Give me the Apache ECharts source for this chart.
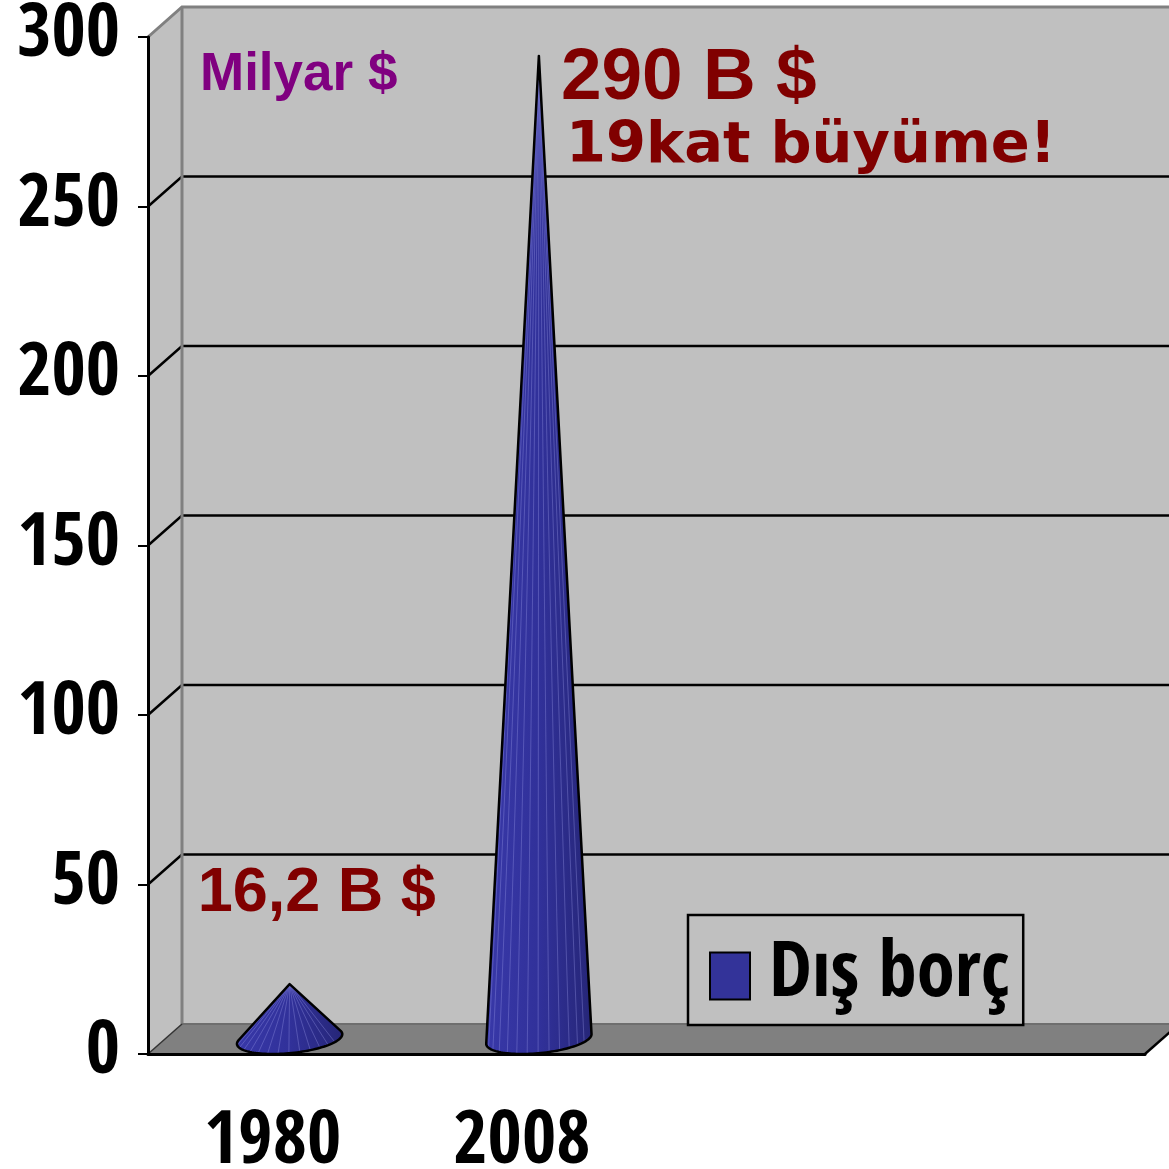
<!DOCTYPE html>
<html>
<head>
<meta charset="utf-8">
<script src="https://cdn.jsdelivr.net/npm/echarts@6/dist/echarts.min.js"></script>
<style>
  html, body { margin: 0; padding: 0; background: #fff; }
  #chart { width: 1169px; height: 1169px; }
</style>
</head>
<body>
<div id="chart"></div>
<script>
// data
var years = ['1980', '2008', '', ''];
var debt = [16.2, 290];
var debtLabels = ['16,2 B $', '290 B $'];
var notes = ['', '19kat büyüme!'];
var yTicks = [0, 50, 100, 150, 200, 250, 300];
var unitText = 'Milyar $';
var seriesName = 'Dış borç';

// layout of the fake 3d box and the text boxes
var DX = 34, DY = -30;
var labelOffset = [[-92, -90], [22, 23]];
var noteOffset = [[0, 0], [27, 91]];

var narrow = '"Open Sans Condensed", "Roboto Condensed", "DejaVu Sans Condensed", sans-serif';
var arial = '"Liberation Sans", Arial, sans-serif';

function hull(pts) {
  pts = pts.slice().sort(function (a, b) { return a[0] - b[0] || a[1] - b[1]; });
  function cross(o, a, b) { return (a[0] - o[0]) * (b[1] - o[1]) - (a[1] - o[1]) * (b[0] - o[0]); }
  var lower = [], upper = [];
  for (var i = 0; i < pts.length; i++) {
    while (lower.length >= 2 && cross(lower[lower.length - 2], lower[lower.length - 1], pts[i]) <= 0) lower.pop();
    lower.push(pts[i]);
  }
  for (var j = pts.length - 1; j >= 0; j--) {
    while (upper.length >= 2 && cross(upper[upper.length - 2], upper[upper.length - 1], pts[j]) <= 0) upper.pop();
    upper.push(pts[j]);
  }
  lower.pop(); upper.pop();
  return lower.concat(upper);
}

// walls, floor and grid lines of the box
function renderBox(params, api) {
  var cs = params.coordSys;
  var x0 = cs.x, x1 = cs.x + cs.width;
  var yb = api.coord([0, yTicks[0]])[1];
  var yt = api.coord([0, yTicks[yTicks.length - 1]])[1];
  var kids = [];
  kids.push({ type: 'polygon', shape: { points: [[x0, yt], [x0 + DX, yt + DY], [x0 + DX, yb + DY], [x0, yb]] }, style: { fill: '#c0c0c0' } });
  kids.push({ type: 'rect', shape: { x: x0 + DX, y: yt + DY, width: x1 - x0 + 10, height: yb - yt }, style: { fill: '#c0c0c0' } });
  kids.push({ type: 'polygon', shape: { points: [[x0, yb], [x1, yb], [x1 + DX, yb + DY], [x0 + DX, yb + DY]] }, style: { fill: '#808080' } });
  yTicks.forEach(function (v, k) {
    if (k === 0 || k === yTicks.length - 1) return;
    var y = api.coord([0, v])[1];
    kids.push({ type: 'polyline', shape: { points: [[x0, y], [x0 + DX, y + DY], [x1 + DX + 10, y + DY]] }, style: { stroke: '#000', lineWidth: 2.5, fill: null } });
  });
  kids.push({ type: 'polyline', shape: { points: [[x0, yt], [x0 + DX, yt + DY], [x1 + DX + 10, yt + DY]] }, style: { stroke: '#808080', lineWidth: 3, fill: null } });
  kids.push({ type: 'line', shape: { x1: x0 + DX, y1: yt + DY, x2: x0 + DX, y2: yb + DY }, style: { stroke: '#808080', lineWidth: 3 } });
  kids.push({ type: 'line', shape: { x1: x0 + DX, y1: yb + DY, x2: x1 + DX + 10, y2: yb + DY }, style: { stroke: '#6e6e6e', lineWidth: 2 } });
  kids.push({ type: 'line', shape: { x1: x0, y1: yb, x2: x0 + DX, y2: yb + DY }, style: { stroke: '#333', lineWidth: 1.5 } });
  kids.push({ type: 'line', shape: { x1: x1, y1: yb, x2: x1 + DX, y2: yb + DY }, style: { stroke: '#000', lineWidth: 2.5 } });
  return { type: 'group', children: kids };
}

// one cone per year, standing in the middle of the box depth
function renderCone(params, api) {
  var i = params.dataIndex;
  var cat = api.value(0), v = api.value(1);
  var band = api.size([1, 0])[0];
  var base = api.coord([cat, 0]);
  var top = api.coord([cat, v]);
  var cx = base[0] + DX / 2, cy = base[1] + DY / 2;
  var apex = [top[0] + DX / 2, top[1] + DY / 2];
  var r = band * 0.2;
  var ring = [];
  var n = 120;
  for (var k = 0; k < n; k++) {
    var t = k / n * Math.PI * 2;
    ring.push([cx + r * Math.cos(t) + DX * 0.5 * Math.sin(t), cy + DY * 0.5 * Math.sin(t)]);
  }
  var outline = hull(ring.concat([apex]));
  var kids = [];
  kids.push({
    type: 'polygon', shape: { points: outline },
    style: {
      fill: { type: 'linear', x: 0, y: 0, x2: 1, y2: 0, colorStops: [
        { offset: 0, color: '#3838a8' }, { offset: 0.5, color: '#31319a' }, { offset: 1, color: '#262678' }] }
    }
  });
  // faint facet lines
  for (var m = 0; m < n; m += 4) {
    var tt = m / n * Math.PI * 2;
    if (Math.sin(tt) >= -0.05) continue;
    kids.push({ type: 'line', shape: { x1: apex[0], y1: apex[1], x2: ring[m][0], y2: ring[m][1] },
      style: { stroke: 'rgba(150,150,230,0.45)', lineWidth: 0.8 } });
  }
  kids.push({ type: 'polygon', shape: { points: outline }, style: { fill: null, stroke: '#000', lineWidth: 2.5, lineJoin: 'round' } });
  kids.push({
    type: 'text', x: apex[0] + labelOffset[i][0], y: apex[1] + labelOffset[i][1],
    style: { text: debtLabels[i], fill: '#800000', font: 'bold ' + (i === 0 ? 63 : 73) + 'px ' + arial, align: 'left', verticalAlign: 'middle' }
  });
  if (notes[i]) {
    kids.push({
      type: 'text', x: apex[0] + noteOffset[i][0], y: apex[1] + noteOffset[i][1],
      style: { text: notes[i], fill: '#800000', font: 'bold 57.5px "DejaVu Sans", Verdana, sans-serif', align: 'left', verticalAlign: 'middle' }
    });
  }
  return { type: 'group', children: kids };
}

var chart = echarts.init(document.getElementById('chart'));
chart.setOption({
  animation: false,
  backgroundColor: '#fff',
  grid: { left: 148, right: 24, top: 37, bottom: 115, containLabel: false, outerBoundsMode: 'none' },
  legend: {
    data: [seriesName], left: 688, top: 915, z: 10,
    backgroundColor: '#c0c0c0', borderColor: '#000', borderWidth: 2.5, borderRadius: 0,
    padding: [15, 14, 3, 21],
    itemWidth: 40, itemHeight: 47, icon: 'rect',
    itemStyle: { borderColor: '#000', borderWidth: 2 },
    textStyle: { fontFamily: narrow, fontWeight: 'bold', fontSize: 77, color: '#000', lineHeight: 80, padding: [12, 0, 0, 14] }
  },
  graphic: [{
    type: 'text', left: 200, top: 49, z: 10,
    style: { text: unitText, fill: '#800080', font: 'bold 53px ' + arial }
  }],
  xAxis: {
    type: 'category', data: years, z: 5,
    axisLine: { lineStyle: { color: '#000', width: 3 } },
    axisTick: { length: 14, lineStyle: { color: '#000', width: 2 } },
    axisLabel: { margin: 53, color: '#000', fontFamily: narrow, fontWeight: 'bold', fontSize: 74 },
    splitLine: { show: false }
  },
  yAxis: {
    type: 'value', min: 0, max: 300, interval: 50, z: 5,
    axisLine: { show: true, lineStyle: { color: '#000', width: 3 } },
    axisTick: { show: true, length: 10, lineStyle: { color: '#000', width: 2 } },
    axisLabel: { margin: 28, color: '#000', fontFamily: narrow, fontWeight: 'bold', fontSize: 74 },
    splitLine: { show: false }
  },
  series: [{
    type: 'custom', name: 'box', silent: true, z: 1,
    renderItem: renderBox, data: [[0, 0]]
  }, {
    type: 'custom', name: seriesName, z: 3,
    itemStyle: { color: '#333399' },
    renderItem: renderCone,
    data: debt.map(function (v, i) { return [i, v]; })
  }]
});
</script>
</body>
</html>
